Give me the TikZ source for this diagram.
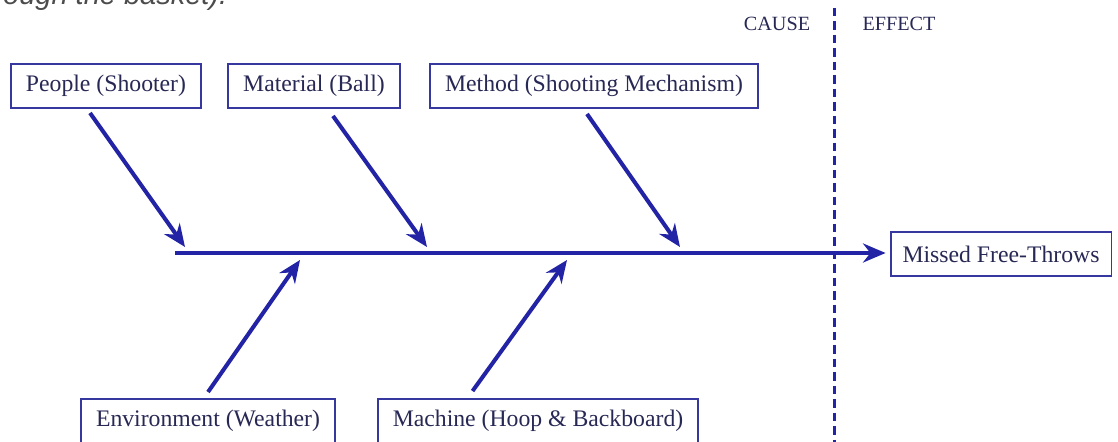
\documentclass[tikz,border=0pt]{standalone}
\usepackage{fontspec}
\setmainfont{Liberation Serif}
\newfontfamily\notesans{Liberation Sans}
\usetikzlibrary{arrows.meta}
\definecolor{bonecol}{RGB}{35,35,165}
\definecolor{boxcol}{RGB}{55,55,160}
\definecolor{labcol}{RGB}{40,40,85}

\begin{document}
\begin{tikzpicture}[
  x=0.02cm, y=-0.02cm,
  every node/.style={font=\fontsize{13.5}{16}\selectfont, text=labcol},
  causebox/.style={draw=boxcol, line width=1.1pt, inner xsep=0.3cm, minimum height=0.88cm},
  bone/.style={draw=bonecol, line width=2.3pt, -{Stealth[length=4.5mm, width=3.8mm]}},
  sidelabel/.style={font=\fontsize{11.5}{14}\selectfont},
  divider/.style={draw=bonecol, line width=1.7pt, dash pattern=on 0.17cm off 0.1cm}
]
\useasboundingbox (0,0) rectangle (1118,442);

\node[anchor=base west, font=\notesans\itshape\fontsize{16.5}{20}\selectfont, text=black!70] (note) at (-3,5) {ough the basket).};

% causes above the spine
\node[causebox] (people) at (106,86) {People (Shooter)};
\node[causebox] (material) at (314,86) {Material (Ball)};
\node[causebox] (method) at (594,86) {Method (Shooting Mechanism)};

% causes below the spine
\node[causebox] (environ) at (208,421) {Environment (Weather)};
\node[causebox] (machine) at (538,421) {Machine (Hoop \& Backboard)};

% effect
\node[causebox, inner xsep=0.24cm] (effect) at (1001,254) {Missed Free-Throws};

\node[sidelabel] (cause) at (777,24) {CAUSE};
\node[sidelabel] (effectlbl) at (899,24) {EFFECT};

\coordinate (divtop) at (834,8);
\coordinate (divbot) at (834,442);
\draw[divider] (divtop) -- (divbot);

% spine and bones
\coordinate (tail) at (175,253);
\coordinate (ppl) at (185,247);
\coordinate (mat) at (427,247);
\coordinate (mth) at (680,247);
\coordinate (env) at (300,260);
\coordinate (mch) at (567,260);

\draw[bone, shorten >=0.08cm] (tail) -- (tail -| effect.west);
\draw[bone] ([xshift=-0.32cm, yshift=-0.08cm]people.south) -- (ppl);
\draw[bone] ([xshift=0.38cm, yshift=-0.14cm]material.south) -- (mat);
\draw[bone] ([xshift=-0.14cm, yshift=-0.1cm]method.south) -- (mth);
\draw[bone] ([yshift=0.12cm]environ.north) -- (env);
\draw[bone] ([xshift=-1.31cm, yshift=0.14cm]machine.north) -- (mch);

\end{tikzpicture}
\end{document}
